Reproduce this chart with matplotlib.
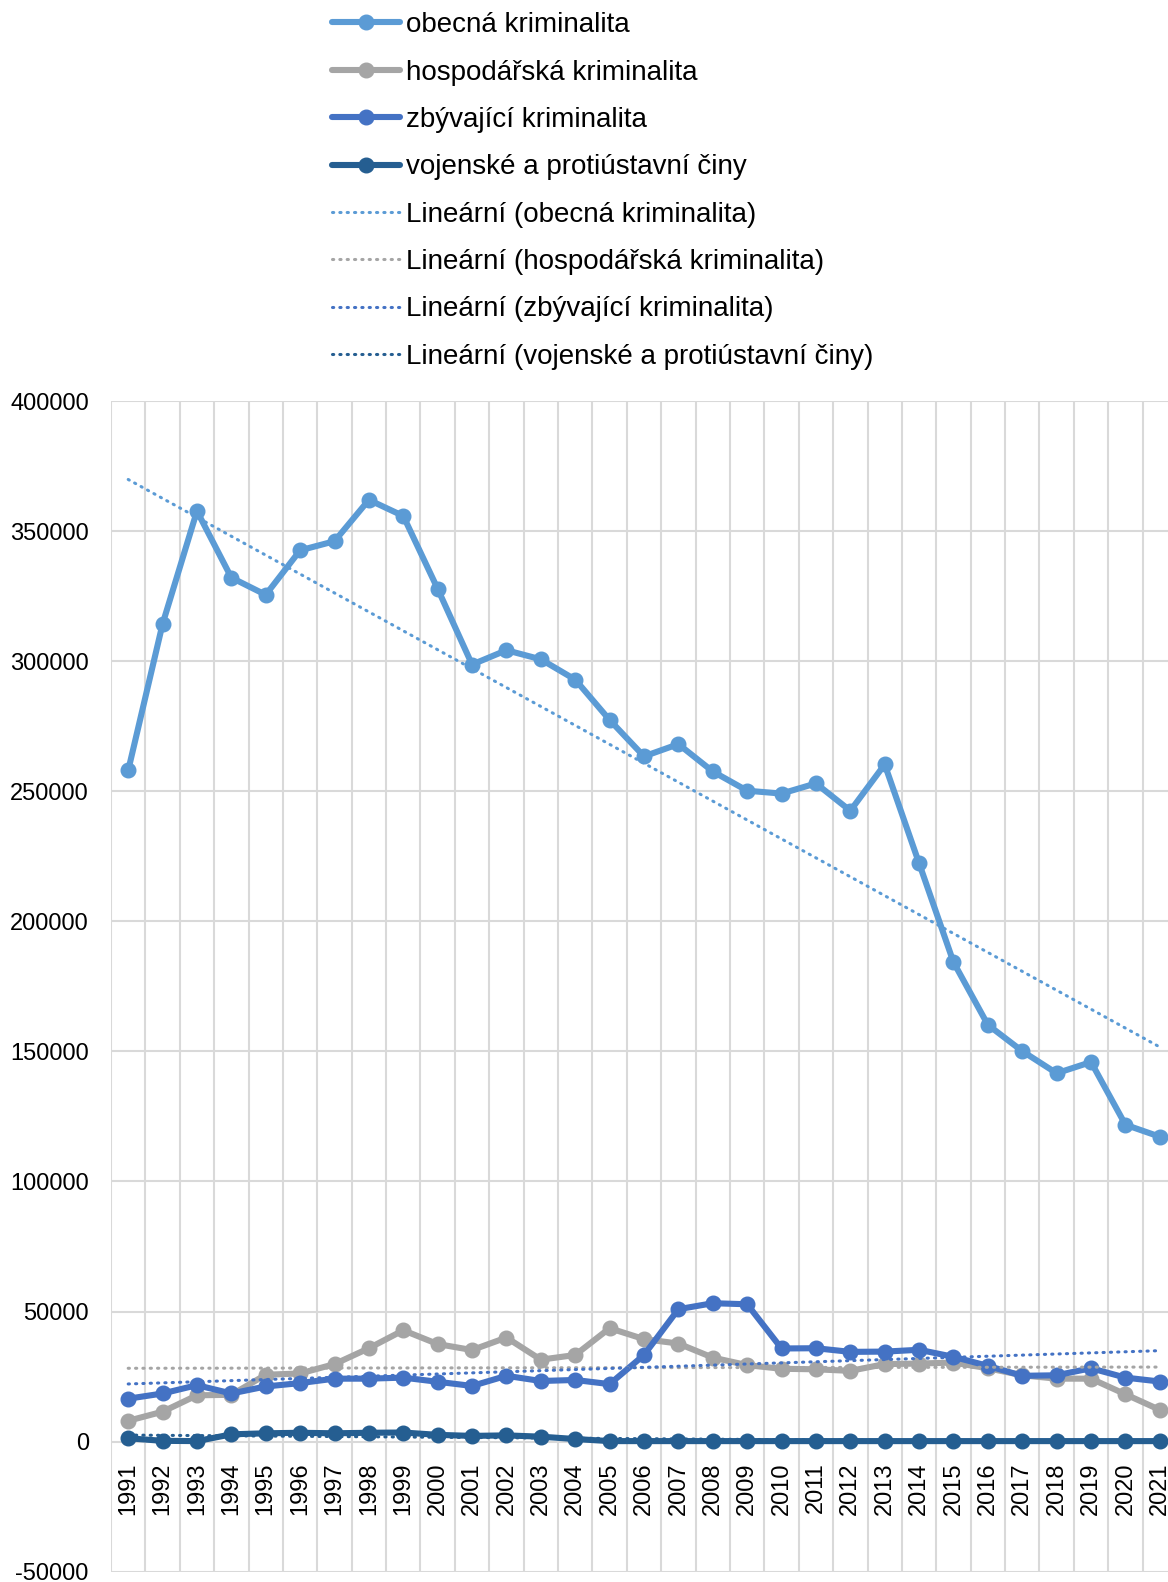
import numpy as np
import matplotlib
matplotlib.use('Agg')
import matplotlib.pyplot as plt

plt.rcParams['font.family'] = ['Liberation Sans', 'DejaVu Sans']

years = [str(y) for y in range(1991, 2022)]

obecna = [258.0, 314.3, 357.7, 332.1, 325.5, 342.6, 346.1, 362.0, 355.8, 327.8,
          298.7, 304.2, 300.7, 292.9, 277.4, 263.4, 268.1, 257.6, 250.2, 249.1,
          253.0, 242.5, 260.3, 222.3, 184.3, 160.2, 150.1, 141.6, 145.9, 121.8, 117.2]
hospodarska = [8.0, 11.5, 17.8, 18.0, 25.7, 26.2, 29.8, 35.9, 42.8, 37.5,
               35.2, 40.0, 31.5, 33.3, 43.6, 39.4, 37.7, 32.3, 29.4, 28.0,
               27.8, 27.2, 29.8, 30.0, 30.4, 28.2, 25.5, 24.2, 24.2, 18.2, 12.2]
zbyvajici = [16.5, 18.5, 21.7, 18.5, 21.2, 22.5, 24.2, 24.2, 24.6, 23.0,
             21.4, 25.3, 23.3, 23.7, 22.1, 33.3, 50.9, 53.2, 52.8, 35.8,
             35.9, 34.5, 34.6, 35.3, 32.6, 29.1, 25.3, 25.5, 28.2, 24.6, 23.1]
vojenske = [1.3, 0.3, 0.2, 2.8, 3.2, 3.4, 3.2, 3.4, 3.5, 2.6,
            2.2, 2.4, 1.9, 1.0, 0.2, 0.2, 0.2, 0.2, 0.2, 0.2,
            0.2, 0.2, 0.2, 0.2, 0.2, 0.2, 0.2, 0.2, 0.2, 0.2, 0.2]

names = ['obecná kriminalita', 'hospodářská kriminalita',
         'zbývající kriminalita', 'vojenské a protiústavní činy']
colors = ['#5B9BD5', '#A5A5A5', '#4472C4', '#255E91']
series = [obecna, hospodarska, zbyvajici, vojenske]

W, H = 1168, 1582
fig = plt.figure(figsize=(W / 100, H / 100), dpi=100)
ax = fig.add_axes([111 / W, 10.3 / H, 1066 / W, 1170.7 / H])

# category axis crosses at 0 (must be set before tick labels, it resets ticks)
for s in ax.spines.values():
    s.set_visible(False)
ax.spines['bottom'].set_position(('data', 0))

x = np.arange(len(years))
line_handles = []
trend_handles = []
for name, col, vals in zip(names, colors, series):
    v = np.array(vals) * 1000
    h, = ax.plot(x, v, color=col, lw=4.4, marker='o', ms=10.5, label=name,
                 solid_capstyle='round', solid_joinstyle='round', zorder=3)
    line_handles.append(h)
for name, col, vals in zip(names, colors, series):
    v = np.array(vals) * 1000
    k, b = np.polyfit(x, v, 1)
    t, = ax.plot(x, k * x + b, color=col, lw=2.2, linestyle=(0, (0.4, 2.0)),
                 dash_capstyle='round', label='Lineární (%s)' % name, zorder=4)
    trend_handles.append(t)

ax.set_xlim(-0.5, len(years) - 0.5)
ax.set_ylim(-50000, 400000)
ax.set_yticks(np.arange(-50000, 400001, 50000))
ax.set_yticklabels([str(v) for v in range(-50000, 400001, 50000)])
ax.set_xticks(x)
ax.set_xticklabels(years, rotation=90, va='top', ha='center')
ax.set_xticks(np.arange(-0.5, len(years), 1), minor=True)

ax.grid(axis='y', which='major', color='#D9D9D9', lw=1.5, zorder=0)
ax.grid(axis='x', which='minor', color='#D9D9D9', lw=1.5, zorder=0)
ax.tick_params(axis='both', which='both', length=0, labelsize=17)
ax.tick_params(axis='y', pad=16)
ax.tick_params(axis='x', pad=15)

fig.legend(handles=line_handles + trend_handles, loc='upper left',
           bbox_to_anchor=(321 / W, 1 - 1 / H), frameon=False, fontsize=20,
           handlelength=2.45, handletextpad=0.2, labelspacing=0.77,
           borderaxespad=0)

fig.savefig('out.png', dpi=100)
